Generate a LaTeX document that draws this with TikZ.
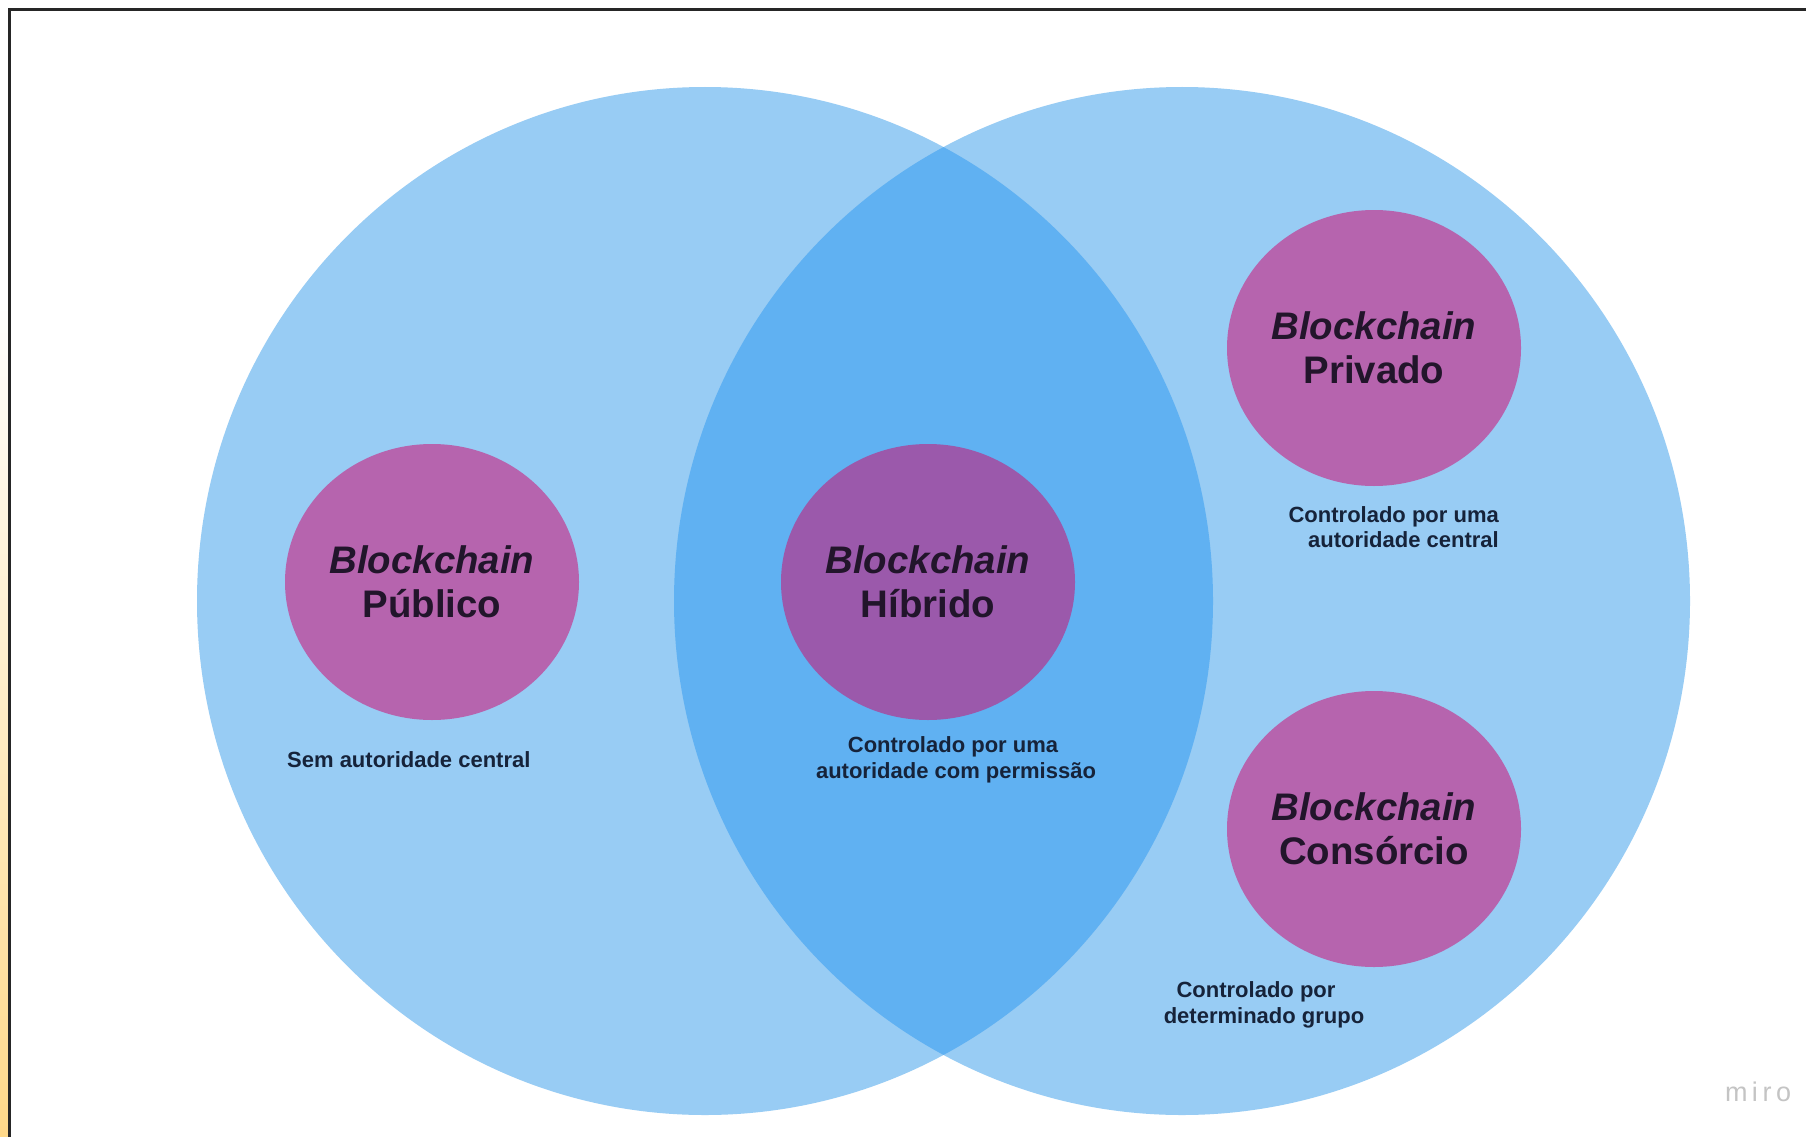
\documentclass[tikz,border=0pt]{standalone}
\usepackage{fontspec}
\setmainfont{Liberation Sans}
\usetikzlibrary{shapes.geometric}
\definecolor{bluelight}{HTML}{98CCF4}
\definecolor{bluedark}{HTML}{60B1F2}
\definecolor{purplea}{HTML}{B664AE}
\definecolor{purpleb}{HTML}{9B59AB}
\definecolor{bigtext}{HTML}{22152B}
\definecolor{smalltext}{HTML}{16233A}
\definecolor{stripcol}{HTML}{FFD98A}
\definecolor{mirogray}{HTML}{C4C4C4}
\tikzset{
  bubble/.style={ellipse, draw=none, minimum width=294pt, minimum height=276pt, inner sep=0pt,
    align=center, text=bigtext, font=\fontsize{38.4}{44}\selectfont\bfseries},
  note/.style={inner sep=0pt, text=smalltext, font=\fontsize{22}{25.5}\selectfont\bfseries}
}
\begin{document}
\begin{tikzpicture}[x=1pt,y=-1pt]
\useasboundingbox (0,0) rectangle (1806,1137);
\fill[white] (0,0) rectangle (1806,1137);
% left strip
\shade[top color=white, bottom color=stripcol] (0,300) rectangle (8,1137);
% frame
\draw[line width=3pt, black!85] (9.5,1137) -- (9.5,9.5) -- (1806,9.5);
% big circles
\fill[bluelight] (705,601) ellipse [x radius=508, y radius=514];
\fill[bluelight] (1182,601) ellipse [x radius=508, y radius=514];
\begin{scope}
  \clip (705,601) ellipse [x radius=508, y radius=514];
  \fill[bluedark] (1182,601) ellipse [x radius=508, y radius=514];
\end{scope}
% inner bubbles
\node[bubble, fill=purplea] (pub) at (432,582) {{\itshape Blockchain}\\Público};
\node[bubble, fill=purpleb] (hib) at (928,582) {{\itshape Blockchain}\\Híbrido};
\node[bubble, fill=purplea] (priv) at (1374,348) {{\itshape Blockchain}\\Privado};
\node[bubble, fill=purplea] (cons) at (1374,829) {\itshape Blockchain\\Consórcio};
% notes
\node[note, anchor=west] (npub) at (287,760) {Sem autoridade central};
\node[note, align=center] (nhib) at (956,760) {Controlado por uma\hspace*{6pt}\\autoridade com permissão};
\node[note, align=right, anchor=east] (npriv) at (1499,527) {Controlado por uma\\autoridade central};
\node[note, align=center] (ncons) at (1264,1005) {Controlado por\hspace*{16pt}\\determinado grupo};
% logo
\node[inner sep=0pt, text=mirogray, font=\fontsize{27}{30}\selectfont] (miro) at (1758,1092) {m\,i\,r\,o};
\end{tikzpicture}
\end{document}
